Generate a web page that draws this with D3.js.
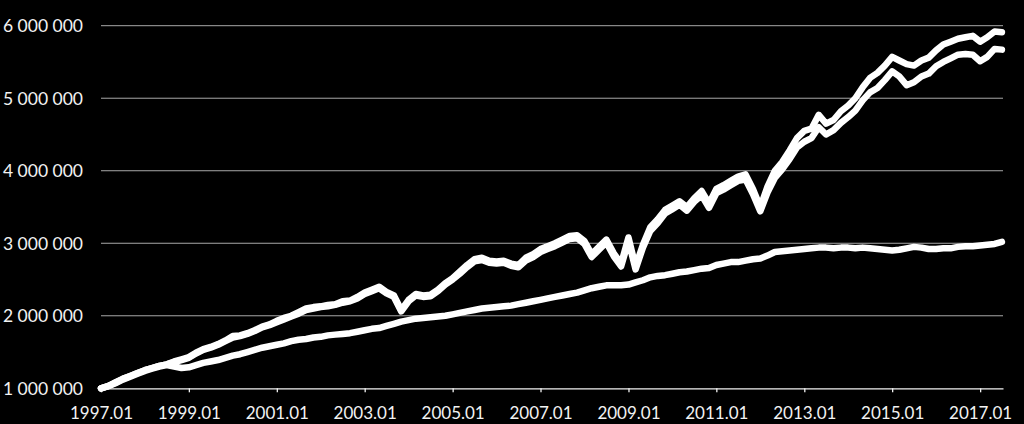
<!DOCTYPE html>
<html>
<head>
<meta charset="utf-8">
<script src="https://cdn.jsdelivr.net/npm/d3@7"></script>
<style>
  html, body { margin: 0; padding: 0; background: #000; }
  svg { display: block; }
</style>
</head>
<body>
<svg id="chart" width="1024" height="424"></svg>
<script>
// Two-monthly observations from 1997-01 to 2017-07 (124 points)
const startDate = new Date(1997, 0, 1);
const endDate = new Date(2017, 7, 1);
const dates = d3.timeMonth.every(2).range(startDate, endDate);

// Values in millions
const seriesA = [
  1.00,1.03,1.08,1.13,1.17,1.21,
  1.25,1.28,1.31,1.33,1.37,1.40,
  1.43,1.49,1.54,1.57,1.61,1.66,
  1.72,1.73,1.76,1.80,1.85,1.88,
  1.93,1.97,2.00,2.05,2.10,2.12,
  2.13,2.15,2.16,2.20,2.21,2.26,
  2.32,2.36,2.40,2.33,2.28,2.08,
  2.22,2.30,2.28,2.29,2.36,2.45,
  2.52,2.61,2.70,2.78,2.80,2.76,
  2.75,2.76,2.72,2.70,2.80,2.85,
  2.92,2.96,3.00,3.05,3.10,3.11,
  3.03,2.85,2.95,3.05,2.86,2.72,
  3.08,2.68,2.98,3.22,3.33,3.46,
  3.52,3.58,3.50,3.62,3.72,3.55,
  3.75,3.80,3.86,3.92,3.95,3.75,
  3.50,3.78,4.00,4.12,4.28,4.45,
  4.55,4.58,4.77,4.65,4.70,4.82,
  4.90,5.00,5.15,5.28,5.35,5.45,
  5.57,5.52,5.47,5.45,5.52,5.56,
  5.66,5.74,5.78,5.82,5.84,5.86,
  5.78,5.84,5.92,5.91
];
const seriesB = [
  1.00,1.03,1.08,1.13,1.17,1.21,
  1.25,1.28,1.31,1.33,1.36,1.39,
  1.42,1.48,1.53,1.56,1.60,1.65,
  1.70,1.72,1.75,1.79,1.84,1.87,
  1.91,1.95,1.99,2.03,2.08,2.10,
  2.12,2.13,2.15,2.18,2.20,2.24,
  2.30,2.34,2.38,2.31,2.26,2.06,
  2.20,2.28,2.26,2.27,2.34,2.43,
  2.50,2.58,2.67,2.75,2.77,2.73,
  2.72,2.73,2.69,2.67,2.76,2.81,
  2.88,2.92,2.96,3.01,3.06,3.07,
  2.99,2.81,2.91,3.01,2.82,2.68,
  3.03,2.64,2.94,3.17,3.28,3.41,
  3.47,3.53,3.45,3.57,3.66,3.49,
  3.69,3.74,3.80,3.86,3.88,3.68,
  3.44,3.70,3.90,4.02,4.16,4.32,
  4.40,4.45,4.60,4.50,4.56,4.66,
  4.74,4.83,4.97,5.08,5.14,5.25,
  5.37,5.30,5.18,5.22,5.30,5.34,
  5.44,5.50,5.55,5.60,5.61,5.60,
  5.51,5.57,5.68,5.67
];
const seriesC = [
  1.00,1.03,1.07,1.12,1.16,1.20,
  1.24,1.27,1.30,1.32,1.30,1.28,
  1.29,1.32,1.35,1.37,1.39,1.42,
  1.45,1.47,1.50,1.53,1.56,1.58,
  1.60,1.62,1.65,1.67,1.68,1.70,
  1.71,1.73,1.74,1.75,1.76,1.78,
  1.80,1.82,1.83,1.86,1.89,1.92,
  1.94,1.96,1.97,1.98,1.99,2.00,
  2.02,2.04,2.06,2.08,2.10,2.11,
  2.12,2.13,2.14,2.16,2.18,2.20,
  2.22,2.24,2.26,2.28,2.30,2.32,
  2.35,2.38,2.40,2.42,2.42,2.42,
  2.43,2.46,2.49,2.53,2.55,2.56,
  2.58,2.60,2.61,2.63,2.65,2.66,
  2.70,2.72,2.74,2.74,2.76,2.78,
  2.79,2.83,2.88,2.89,2.90,2.91,
  2.92,2.93,2.94,2.94,2.93,2.94,
  2.94,2.93,2.94,2.93,2.92,2.91,
  2.90,2.91,2.93,2.95,2.94,2.92,
  2.92,2.93,2.93,2.95,2.96,2.96,
  2.97,2.98,2.99,3.02
];

const yTicks = [1000000, 2000000, 3000000, 4000000, 5000000, 6000000];
const yTickLabels = ["1 000 000","2 000 000","3 000 000","4 000 000","5 000 000","6 000 000"];
const xTickYears = [1997,1999,2001,2003,2005,2007,2009,2011,2013,2015,2017];
const xTickLabels = ["1997.01","1999.01","2001.01","2003.01","2005.01","2007.01","2009.01","2011.01","2013.01","2015.01","2017.01"];

const svg = d3.select("#chart");
const plotLeft = 101, plotRight = 1003, plotTop = 25.7, plotBottom = 388.3;

const x = d3.scaleTime()
  .domain([startDate, new Date(2017, 6, 10)])
  .range([plotLeft, plotRight]);
const y = d3.scaleLinear()
  .domain([1000000, 6000000])
  .range([plotBottom, plotTop]);

// gridlines
svg.append("g")
  .selectAll("line")
  .data(yTicks.slice(1))
  .join("line")
  .attr("x1", plotLeft).attr("x2", plotRight)
  .attr("y1", d => y(d)).attr("y2", d => y(d))
  .attr("stroke", "#a8a8a8")
  .attr("stroke-width", 1);

// y labels
svg.append("g")
  .selectAll("text")
  .data(yTicks)
  .join("text")
  .attr("x", 83)
  .attr("y", d => y(d))
  .attr("dy", "0.36em")
  .attr("text-anchor", "end")
  .attr("fill", "#f2f2f2")
  .style("font-family", "Lato, sans-serif")
  .style("font-size", "17.5px")
  .text((d, i) => yTickLabels[i]);

// x axis
const xAxis = d3.axisBottom(x)
  .tickValues(xTickYears.map(yr => new Date(yr, 0, 1)))
  .tickFormat((d, i) => xTickLabels[i])
  .tickSizeInner(4)
  .tickSizeOuter(0)
  .tickPadding(15);
const gx = svg.append("g")
  .attr("transform", `translate(0,${plotBottom})`)
  .call(xAxis);
gx.select(".domain").attr("stroke", "#f2f2f2").attr("stroke-width", 1.3);
gx.selectAll(".tick line").attr("stroke", "#f2f2f2").attr("stroke-width", 1.3);
gx.selectAll(".tick text")
  .attr("fill", "#f2f2f2")
  .style("font-family", "Lato, sans-serif")
  .style("font-size", "17px");

// lines
const line = d3.line()
  .x((d, i) => x(dates[i]))
  .y(d => y(d * 1000000));

const series = [seriesC, seriesB, seriesA];
svg.append("g")
  .selectAll("path")
  .data(series)
  .join("path")
  .attr("d", d => line(d))
  .attr("fill", "none")
  .attr("stroke", "#ffffff")
  .attr("stroke-width", 6.5)
  .attr("stroke-linejoin", "round")
  .attr("stroke-linecap", "round");
</script>
</body>
</html>
